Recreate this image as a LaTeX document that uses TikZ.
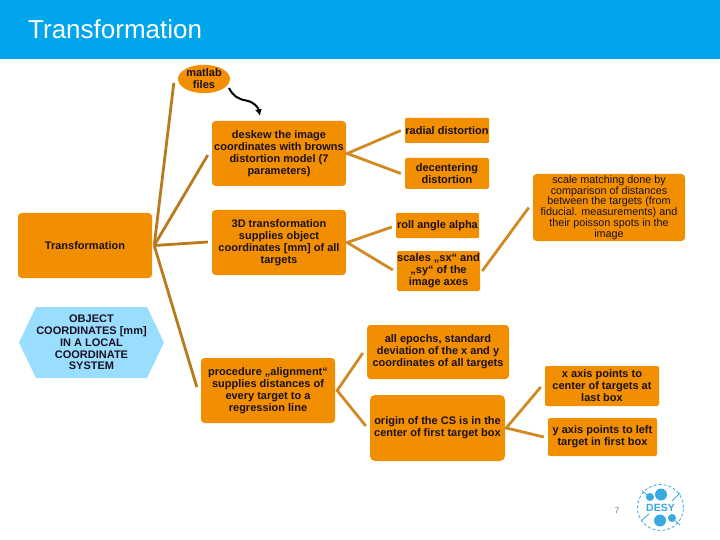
\documentclass[tikz,border=0pt]{standalone}
\usepackage{fontspec}
\setmainfont{Liberation Sans}
\usepackage{xcolor}
\usetikzlibrary{arrows.meta,shapes.geometric}
\definecolor{deckblue}{HTML}{00A5EC}
\definecolor{deckorange}{HTML}{F18F00}
\definecolor{deckbrown}{HTML}{B97A1D}
\definecolor{decktan}{HTML}{D18A22}
\definecolor{deckhex}{HTML}{99DDFF}
\definecolor{desylogo}{HTML}{3AA9DD}
\definecolor{deckink}{HTML}{1A1020}
\tikzset{
  box/.style={fill=deckorange, rounded corners=3.5pt, inner sep=0pt, text=deckink, font=\fontsize{11}{12}\selectfont\bfseries, align=center},
  spoke/.style={line width=2.8pt, deckbrown},
  twig/.style={line width=2.8pt, decktan}
}
\begin{document}
\begin{tikzpicture}[x=1pt, y=-1pt, >=Latex]
  \useasboundingbox (0,0) rectangle (720,540);
  \fill[deckblue] (0,0) rectangle (720,59);
  \node[anchor=base west, inner sep=0pt, text=white, font=\fontsize{26}{30}\selectfont] (title) at (28,39) {Transformation};

  \node[box, ellipse, minimum width=52pt, minimum height=24pt] (matlab) at (204,79) {matlab\\files};
  \node[box, minimum width=134pt, minimum height=65pt] (trans) at (85,245.5) {Transformation};
  \node[box, minimum width=134pt, minimum height=65pt] (deskew) at (279,153.5) {deskew the image\\coordinates with browns\\distortion model (7\\parameters)};
  \node[box, minimum width=134pt, minimum height=65pt] (threed) at (279,242.5) {3D transformation\\supplies object\\coordinates [mm] of all\\targets};
  \node[box, minimum width=134pt, minimum height=65pt] (proc) at (268,390.5) {procedure „alignment“\\supplies distances of\\every target to a\\regression line};
  \node[box, rounded corners=1pt, minimum width=84pt, minimum height=25pt] (radial) at (447,130.5) {radial distortion};
  \node[box, rounded corners=2pt, minimum width=84pt, minimum height=31pt] (decenter) at (447,173.5) {decentering\\distortion};
  \node[box, rounded corners=1pt, minimum width=83pt, minimum height=25pt] (roll) at (437.5,225.5) {roll angle alpha};
  \node[box, rounded corners=2pt, minimum width=83pt, minimum height=40pt] (scales) at (438.5,271) {scales „sx“ and\\„sy“ of the\\image axes};
  \node[box, minimum width=152pt, minimum height=67pt, font=\fontsize{10.8}{10.8}\selectfont] (matching) at (609,207.5) {scale matching done by\\comparison of distances\\between the targets (from\\fiducial. measurements) and\\their poisson spots in the\\image};
  \node[box, minimum width=142pt, minimum height=54pt] (epochs) at (438,352) {all epochs, standard\\deviation of the x and y\\coordinates of all targets};
  \node[box, rounded corners=5pt, minimum width=135pt, minimum height=66pt] (origin) at (437.5,428) {origin of the CS is in the\\center of first target box};
  \node[box, rounded corners=2pt, minimum width=114pt, minimum height=40pt] (xaxis) at (602,386) {x axis points to\\center of targets at\\last box};
  \node[box, rounded corners=2pt, minimum width=109pt, minimum height=38pt] (yaxis) at (602.5,437) {y axis points to left\\target in first box};
  \fill[deckhex] (19,342.5) -- (36,307) -- (147,307) -- (164,342.5) -- (147,378) -- (36,378) -- cycle;
  \node[align=center, inner sep=0pt, text=deckink, font=\fontsize{11}{11.8}\selectfont\bfseries] (object) at (91.5,342.5) {OBJECT\\COORDINATES [mm]\\IN A LOCAL\\COORDINATE\\SYSTEM};

  \draw[spoke] ([xshift=2pt]trans.east) -- ([shift={(-4,4)}]matlab.west);
  \draw[spoke] ([xshift=2pt]trans.east) -- ([shift={(-4,1.5)}]deskew.west);
  \draw[spoke] ([xshift=2pt]trans.east) -- ([shift={(-4,-0.5)}]threed.west);
  \draw[spoke] ([xshift=2pt]trans.east) -- ([shift={(-4,-3.5)}]proc.west);

  \draw[twig] ([xshift=-4pt]radial.west) -- ([xshift=1pt]deskew.east) -- ([xshift=-4pt]decenter.west);
  \draw[twig] ([shift={(-4,1.5)}]roll.west) -- ([xshift=1pt]threed.east) -- ([shift={(-4,-1)}]scales.west);
  \draw[twig] ([xshift=2pt]scales.east) -- ([xshift=-4pt]matching.west);
  \draw[twig] ([shift={(-4,1)}]epochs.west) -- ([xshift=2pt]proc.east) -- ([shift={(-4,-2)}]origin.west);
  \draw[twig] ([shift={(-4,1)}]xaxis.west) -- ([xshift=1pt]origin.east) -- ([xshift=-4pt]yaxis.west);

  \draw[black, line width=2pt, -{Latex[length=6.5pt,width=7pt]}] ([shift={(25,9)}]matlab.center) .. controls (233,96) and (238,99) .. (246,100.5) .. controls (254,102) and (258,107) .. ([shift={(-19,-5)}]deskew.north);

  \node[text=gray, font=\fontsize{8.5}{10}\selectfont, inner sep=0pt] (pageno) at (617,511) {7};
  \node[inner sep=0pt, text=desylogo, font=\fontsize{10.5}{12}\selectfont\bfseries] (desy) at (660.5,507.5) {DESY};
  \draw[desylogo, line width=0.8pt, densely dashed] (desy) circle[radius=23pt];
  \foreach \blobx/\bloby/\blobr in {661/494.5/6, 660/520.5/6, 650/497/4, 672/518/4}
    \fill[desylogo] (\blobx,\bloby) circle[radius=\blobr pt];
  \draw[desylogo, line width=0.8pt] (642,491) -- (650,497) (672,518) -- (680,525);
  \draw[desylogo, line width=0.8pt] (642,520) -- (649,514) (672,501) -- (680,493);
\end{tikzpicture}
\end{document}
